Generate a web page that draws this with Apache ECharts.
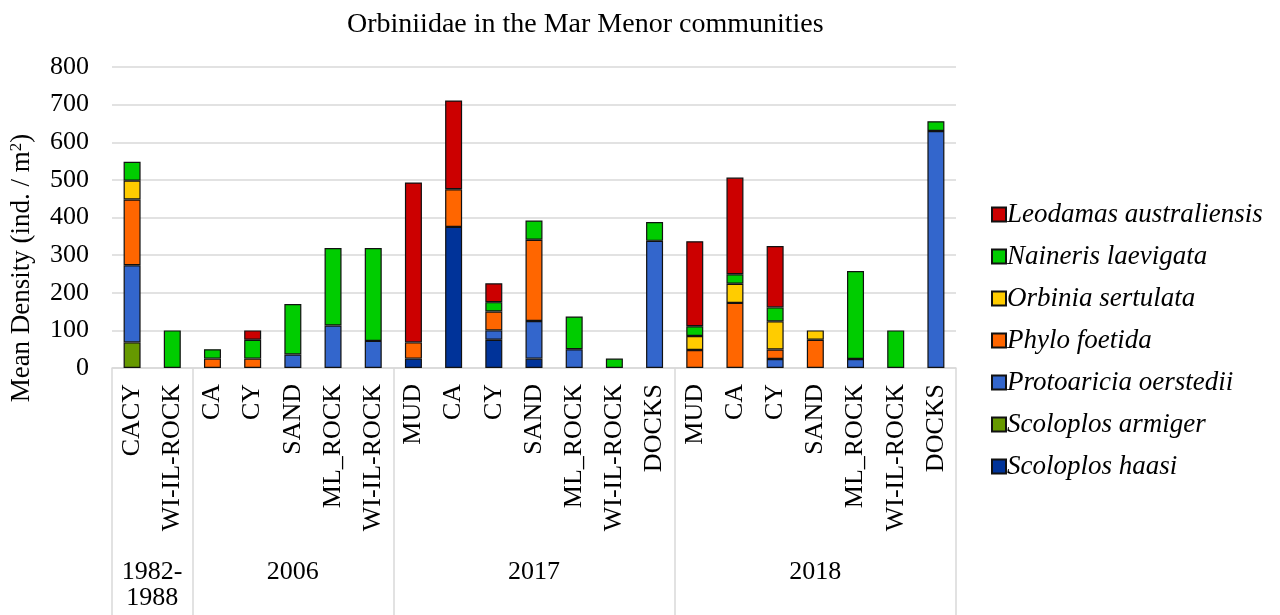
<!DOCTYPE html>
<html>
<head>
<meta charset="utf-8">
<script src="https://cdn.jsdelivr.net/npm/echarts@6/dist/echarts.min.js"></script>
<style>
html,body{margin:0;padding:0;background:#fff;}
#chart{width:1280px;height:615px;}
</style>
</head>
<body>
<div id="chart"></div>
<script>
var categories = ['CACY','WI-IL-ROCK','CA','CY','SAND','ML_ROCK','WI-IL-ROCK','MUD','CA','CY','SAND','ML_ROCK','WI-IL-ROCK','DOCKS','MUD','CA','CY','SAND','ML_ROCK','WI-IL-ROCK','DOCKS'];
var groupNames = ['1982-\n1988','2006','2017','2018'];
var groupBounds = [0,2,7,14,21];
var yTicks = [0,100,200,300,400,500,600,700,800];

var leodamas    = [null,null, null,25,null,null,null, 425,236,50,null,null,null,null, 226,257,163,null,null,null,null];
var naineris    = [50,100, 25,50,134,206,247, null,null,25,51,87,25,50, 26,25,37,null,234,100,26];
var orbinia     = [50,null, null,null,null,null,null, null,null,null,null,null,null,null, 37,51,75,25,null,null,null];
var phylo       = [175,null, 25,25,null,null,null, 43,100,50,216,null,null,null, 48,173,25,75,null,null,null];
var protoaricia = [205,null, null,null,36,113,72, null,null,25,100,50,null,338, null,null,24,null,24,null,630];
var armiger     = [68,null, null,null,null,null,null, null,null,null,null,null,null,null, null,null,null,null,null,null,null];
var haasi       = [null,null, null,null,null,null,null, 25,375,75,25,null,null,null, null,null,null,null,null,null,null];

var seriesDefs = [
  {name:'Scoloplos haasi', data:haasi, color:'#003399'},
  {name:'Scoloplos armiger', data:armiger, color:'#669900'},
  {name:'Protoaricia oerstedii', data:protoaricia, color:'#3366CC'},
  {name:'Phylo foetida', data:phylo, color:'#FF6600'},
  {name:'Orbinia sertulata', data:orbinia, color:'#FFCC00'},
  {name:'Naineris laevigata', data:naineris, color:'#00CC00'},
  {name:'Leodamas australiensis', data:leodamas, color:'#CC0000'}
];

var groupCenters = [];
for (var i = 0; i < groupNames.length; i++) groupCenters.push((groupBounds[i] + groupBounds[i+1]) / 2);

var FONT = '"Liberation Serif", "Times New Roman", serif';
var chart = echarts.init(document.getElementById('chart'));
chart.setOption({
  backgroundColor: '#fff',
  animation: false,
  title: {
    text: 'Orbiniidae in the Mar Menor communities',
    left: 342, top: 6,
    textStyle: {fontFamily: FONT, fontSize: 28, fontWeight: 'normal', color: '#000'}
  },
  legend: {
    orient: 'vertical',
    left: 986, top: 196,
    itemWidth: 14, itemHeight: 14, itemGap: 15,
    icon: 'rect',
    data: ['Leodamas australiensis','Naineris laevigata','Orbinia sertulata','Phylo foetida','Protoaricia oerstedii','Scoloplos armiger','Scoloplos haasi'],
    textStyle: {fontFamily: FONT, fontSize: 27, fontStyle: 'italic', color: '#000', lineHeight: 26, padding: [0,0,0,-4]}
  },
  grid: {left: 112, right: 324, top: 67, bottom: 247, containLabel: false},
  xAxis: [{
    type: 'category',
    data: categories,
    axisLine: {show: true, lineStyle: {color: '#d9d9d9', width: 1.5}},
    axisTick: {show: false},
    axisLabel: {interval: 0, rotate: 90, margin: 16, fontFamily: FONT, fontSize: 26, color: '#000'}
  }, {
    type: 'value',
    position: 'bottom',
    min: 0, max: 21,
    axisLine: {show: false},
    splitLine: {show: false},
    axisTick: {show: true, customValues: groupBounds, length: 247, lineStyle: {color: '#d9d9d9', width: 1.5}},
    axisLabel: {
      customValues: groupCenters, margin: 191,
      fontFamily: FONT, fontSize: 26, color: '#000', lineHeight: 26,
      formatter: function (v) { return groupNames[groupCenters.indexOf(v)]; }
    }
  }],
  yAxis: {
    type: 'value',
    min: yTicks[0], max: yTicks[yTicks.length-1], interval: 100,
    axisLine: {show: false},
    axisTick: {show: false},
    splitLine: {lineStyle: {color: '#d9d9d9', width: 1.5}},
    axisLabel: {margin: 23, fontFamily: FONT, fontSize: 26, color: '#000'}
  },
  graphic: [{
    type: 'text',
    x: 22, y: 268,
    rotation: Math.PI / 2,
    style: {
      text: '{a|Mean Density (ind. / m}{s|2}{a|)}',
      align: 'center', verticalAlign: 'middle',
      rich: {
        a: {fontFamily: FONT, fontSize: 27, fill: '#000', verticalAlign: 'bottom'},
        s: {fontFamily: FONT, fontSize: 17, fill: '#000', verticalAlign: 'top', padding: [0,0,10,0]}
      }
    }
  }],
  series: seriesDefs.map(function (s) {
    return {
      name: s.name,
      type: 'bar',
      stack: 'total',
      xAxisIndex: 0,
      barWidth: 17,
      data: s.data,
      itemStyle: {color: s.color, borderColor: '#111', borderWidth: 1.2}
    };
  })
});
</script>
</body>
</html>
